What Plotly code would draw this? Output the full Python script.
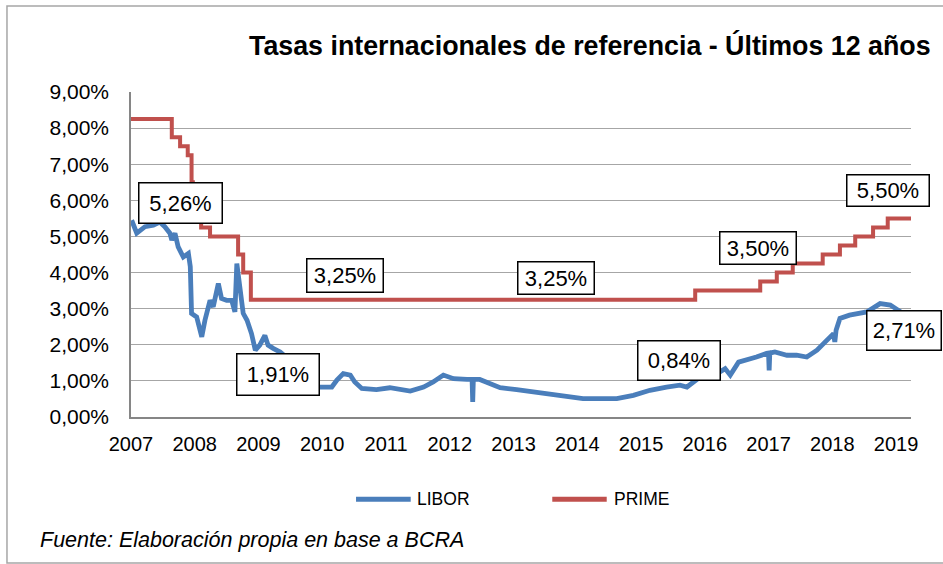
import plotly.graph_objects as go

# ---------------- data ----------------
libor_x = [2007.01, 2007.09, 2007.22, 2007.35, 2007.45, 2007.53, 2007.61, 2007.64, 2007.69, 2007.74,
           2007.82, 2007.90, 2007.93, 2007.95, 2008.03, 2008.11, 2008.16, 2008.24, 2008.29, 2008.37,
           2008.42, 2008.50, 2008.58, 2008.63, 2008.66, 2008.71, 2008.76, 2008.82, 2008.89, 2008.95,
           2009.02, 2009.10, 2009.15, 2009.23, 2009.34, 2009.49, 2009.65, 2009.81, 2009.96, 2010.15,
           2010.23, 2010.33, 2010.44, 2010.51, 2010.62, 2010.85, 2011.06, 2011.22, 2011.38, 2011.59,
           2011.74, 2011.90, 2012.06, 2012.27, 2012.35, 2012.36, 2012.37, 2012.47, 2012.63, 2012.79,
           2013.05, 2013.31, 2013.57, 2013.83, 2014.09, 2014.36, 2014.62, 2014.88, 2015.14, 2015.40,
           2015.61, 2015.72, 2015.85, 2015.93, 2016.09, 2016.24, 2016.32, 2016.40, 2016.53, 2016.66,
           2016.81, 2016.97, 2017.00, 2017.01, 2017.02, 2017.10, 2017.29, 2017.44, 2017.60, 2017.76,
           2017.91, 2018.02, 2018.04, 2018.06, 2018.12, 2018.27, 2018.54, 2018.75, 2018.91, 2019.01,
           2019.11, 2019.23]
libor_y = [5.45, 5.09, 5.27, 5.31, 5.40, 5.27, 5.09, 4.90, 5.09, 4.71,
           4.43, 4.53, 4.16, 2.87, 2.77, 2.22, 2.68, 3.23, 3.05, 3.70,
           3.28, 3.23, 3.23, 2.91, 4.25, 3.60, 2.87, 2.68, 2.31, 1.85,
           1.99, 2.26, 1.99, 1.90, 1.80, 1.57, 1.24, 0.96, 0.83, 0.83,
           1.02, 1.20, 1.16, 0.97, 0.79, 0.76, 0.81, 0.76, 0.72, 0.83,
           0.97, 1.16, 1.06, 1.04, 1.04, 0.42, 1.04, 1.04, 0.93, 0.81,
           0.76, 0.69, 0.65, 0.55, 0.51, 0.51, 0.51, 0.60, 0.74, 0.83,
           0.88, 0.83, 1.02, 1.11, 1.18, 1.25, 1.34, 1.16, 1.52, 1.57,
           1.66, 1.76, 1.77, 1.29, 1.77, 1.80, 1.71, 1.71, 1.66, 1.85,
           2.13, 2.31, 2.08, 2.40, 2.73, 2.82, 2.91, 3.14, 3.10, 3.00,
           2.87, 2.71]

prime_x = [2007.00, 2007.64, 2007.77, 2007.89, 2007.95, 2007.97, 2008.10, 2008.24, 2008.68, 2008.76,
           2008.88, 2015.85, 2016.87, 2017.13, 2017.38, 2017.85, 2018.12, 2018.36, 2018.64, 2018.87,
           2019.235]
prime_y = [8.25, 7.75, 7.50, 7.25, 6.50, 6.00, 5.25, 5.00, 4.50, 4.00,
           3.25, 3.50, 3.75, 4.00, 4.25, 4.50, 4.75, 5.00, 5.25, 5.50,
           5.50]

year_ticks = list(range(2007, 2020))
year_labels = [str(y) for y in year_ticks]
y_ticks = list(range(0, 10))
y_labels = ["%d,00%%" % v for v in y_ticks]

label_text = ["5,26%", "1,91%", "3,25%", "3,25%", "0,84%", "3,50%", "5,50%", "2,71%"]
label_x = [2007.77, 2009.30, 2010.35, 2013.66, 2015.59, 2016.84, 2018.88, 2019.13]
label_y = [5.94, 1.18, 3.92, 3.86, 1.57, 4.67, 6.26, 2.40]
label_w = [82, 81, 75, 75, 81, 75, 81, 73]
label_h = [39, 40, 32, 31, 38, 31, 30, 38]

series_names = ["LIBOR", "PRIME"]
series_colors = ["#4A7EBB", "#C0504D"]

FONT = "Liberation Sans, Arial, sans-serif"

fig = go.Figure()
fig.add_trace(go.Scatter(x=libor_x, y=libor_y, mode="lines", name="LIBOR",
                         line=dict(color=series_colors[0], width=4.8)))
fig.add_trace(go.Scatter(x=prime_x, y=prime_y, mode="lines", name="PRIME",
                         line=dict(color=series_colors[1], width=4, shape="hv")))

ann = []
for t, x, y, w, h in zip(label_text, label_x, label_y, label_w, label_h):
    ann.append(dict(x=x, y=y, xref="x", yref="y", text=t, showarrow=False,
                    xanchor="center", yanchor="middle",
                    font=dict(family=FONT, size=22, color="black"),
                    bgcolor="white", bordercolor="black", borderwidth=1.5,
                    borderpad=0, width=w, height=h))

# title
ann.append(dict(x=1.0282, y=1.1446, xref="paper", yref="paper", xanchor="right", yanchor="middle",
                text="<b>Tasas internacionales de referencia - Últimos 12 años</b>", showarrow=False,
                font=dict(family=FONT, size=26.8, color="black")))
# source
ann.append(dict(x=-0.1192, y=-0.3785, xref="paper", yref="paper", xanchor="left", yanchor="middle",
                text="<i>Fuente: Elaboración propia en base a BCRA</i>", showarrow=False,
                font=dict(family=FONT, size=21.5, color="black")))

# custom legend
legend_line_x = [(0.2885, 0.3586), (0.5401, 0.6099)]
legend_text_x = [0.3641, 0.6163]
legend_y = -0.2532
shapes = []
for (x0, x1), tx, name, col in zip(legend_line_x, legend_text_x, series_names, series_colors):
    shapes.append(dict(type="line", xref="paper", yref="paper", x0=x0, x1=x1,
                       y0=legend_y, y1=legend_y, line=dict(color=col, width=5)))
    ann.append(dict(x=tx, y=legend_y, xref="paper", yref="paper", xanchor="left", yanchor="middle",
                    text=name, showarrow=False, font=dict(family=FONT, size=17.5, color="black")))

# outer border
shapes.append(dict(type="rect", xref="paper", yref="paper", x0=-0.159, x1=1.06,
                   y0=-0.4492, y1=1.2646, line=dict(color="#A6A6A6", width=1.5), layer="below"))

fig.update_layout(
    width=943, height=564,
    margin=dict(l=131, r=32, t=92, b=147, pad=0),
    paper_bgcolor="white", plot_bgcolor="white",
    showlegend=False,
    annotations=ann, shapes=shapes,
    font=dict(family=FONT, color="black"),
)
fig.update_xaxes(range=[2007, 2019.235], tickvals=year_ticks, ticktext=year_labels,
                 showgrid=False, zeroline=False, showline=True, linecolor="#868686", linewidth=1.5,
                 ticks="", tickfont=dict(family=FONT, size=20, color="black"), ticklabelstandoff=8)
fig.update_yaxes(range=[0, 9], tickvals=y_ticks, ticktext=y_labels,
                 showgrid=True, gridcolor="#A6A6A6", gridwidth=1.2, zeroline=False,
                 showline=True, linecolor="#868686", linewidth=1.5,
                 ticks="", tickfont=dict(family=FONT, size=21, color="black"), ticklabelstandoff=16)

fig.write_html("out.html", config={"displayModeBar": False},
               post_script="document.body.style.margin='0';document.body.style.overflow='hidden';")
